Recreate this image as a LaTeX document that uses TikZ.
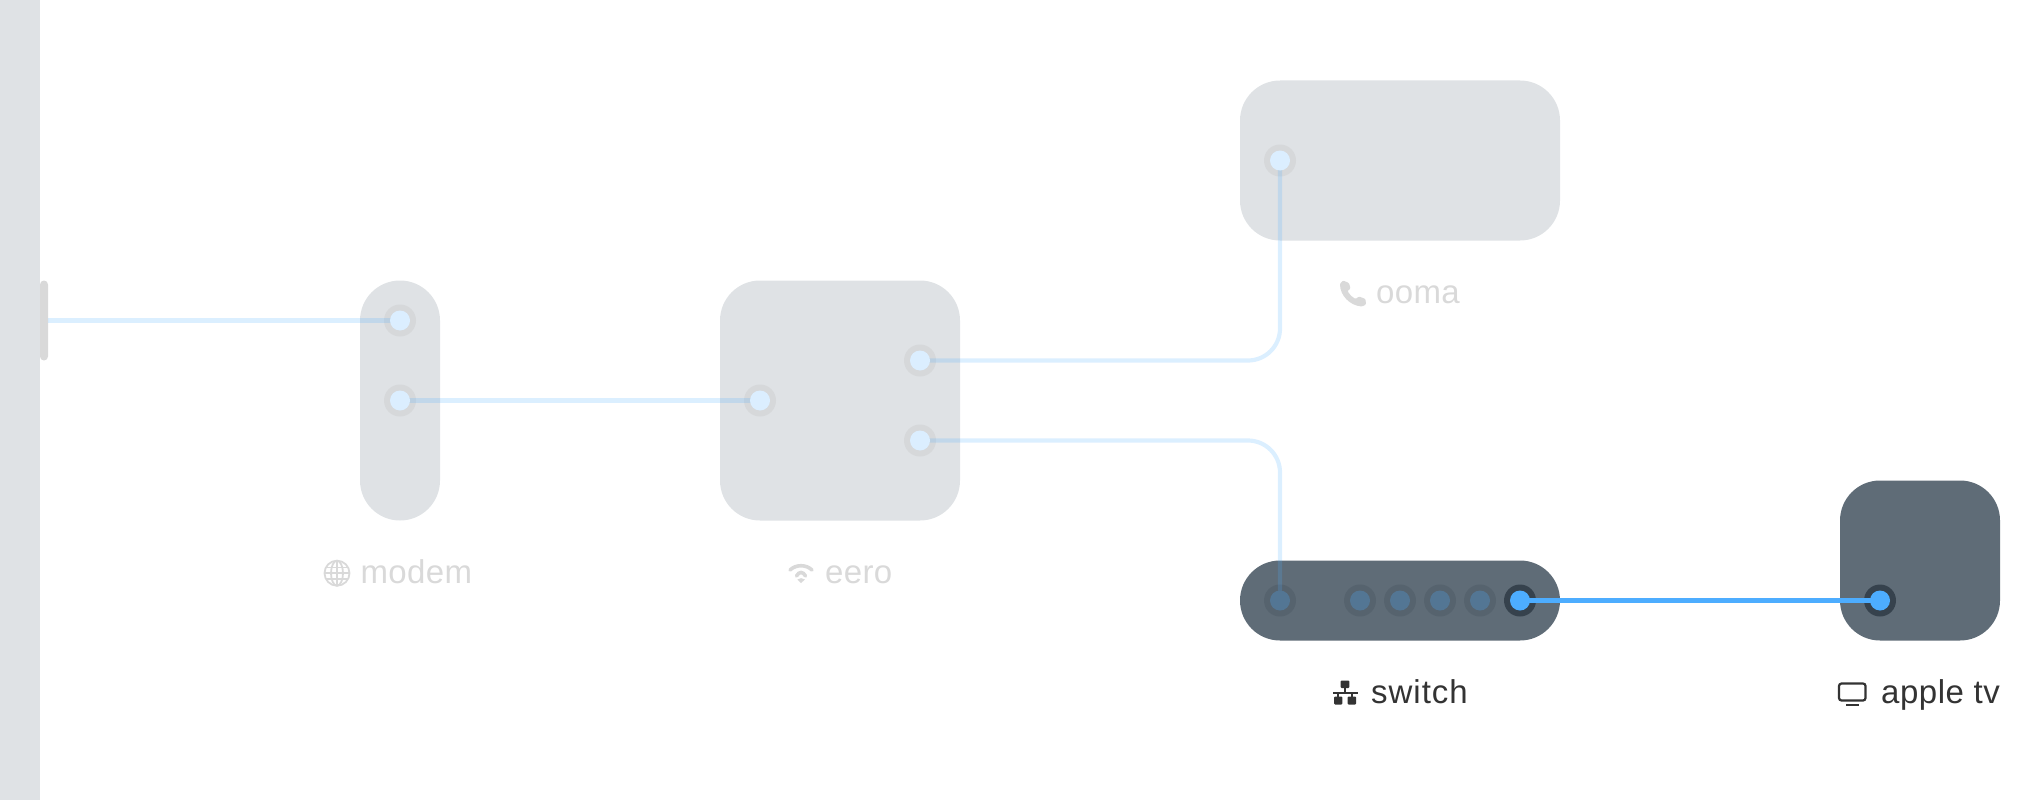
\documentclass[tikz,border=0pt]{standalone}
\usepackage{fontspec}
\setmainfont[LetterSpace=1]{Liberation Sans}
\definecolor{boxlight}{HTML}{DFE2E5}
\definecolor{boxdark}{HTML}{5F6C77}
\definecolor{tabgrey}{HTML}{D9D9D9}
\definecolor{ringlight}{HTML}{D6D8DA}
\definecolor{portlight}{HTML}{DBEEFF}
\definecolor{ringdim}{HTML}{56636E}
\definecolor{portdim}{HTML}{537694}
\definecolor{ringdark}{HTML}{36424D}
\definecolor{live}{HTML}{4DADFF}
\definecolor{fadetext}{HTML}{D9D9D9}
\definecolor{darktext}{HTML}{333333}
\tikzset{
  devbox/.style={rectangle,draw=none,inner sep=0pt,rounded corners=40pt},
  lightbox/.style={devbox,fill=boxlight},
  darkbox/.style={devbox,fill=boxdark},
  ring/.style={circle,draw=none,inner sep=0pt,minimum size=32pt},
  core/.style={circle,draw=none,inner sep=0pt,minimum size=20pt},
  wirefaint/.style={draw=live,opacity=.2,line width=4.2pt},
  wirelive/.style={draw=live,line width=4.2pt},
  lbl/.style={anchor=base west,inner sep=0pt,font=\fontsize{33}{39}\selectfont},
  lblfade/.style={lbl,text=fadetext},
  lbldark/.style={lbl,text=darktext}
}
\begin{document}
\begin{tikzpicture}[x=1pt,y=-1pt]
\useasboundingbox (0,-0.5) rectangle (2040,799.5);
% left bar and tab
\fill[boxlight] (0,-0.5) rectangle (40,799.5);
\node[rectangle,inner sep=0pt,minimum width=8pt,minimum height=80pt,rounded corners=4pt,fill=tabgrey] (tab) at (44,320) {};
% devices
\node[lightbox,minimum width=80pt,minimum height=240pt] (modem) at (400,400) {};
\node[lightbox,minimum width=240pt,minimum height=240pt] (eero) at (840,400) {};
\node[lightbox,minimum width=320pt,minimum height=160pt] (ooma) at (1400,160) {};
\node[darkbox,minimum width=320pt,minimum height=80pt] (switch) at (1400,600) {};
\node[darkbox,minimum width=160pt,minimum height=160pt] (atv) at (1920,560) {};
% rings
\foreach \n/\x/\y in {m1/400/320,m2/400/400,e1/760/400,e2/920/360,e3/920/440,o1/1280/160}
  \node[ring,fill=ringlight] (r\n) at (\x,\y) {};
\foreach \n/\x/\y in {s1/1280/600,s2/1360/600,s3/1400/600,s4/1440/600,s5/1480/600}
  \node[ring,fill=ringdim] (r\n) at (\x,\y) {};
\foreach \n/\x/\y in {s6/1520/600,a1/1880/600}
  \node[ring,fill=ringdark] (r\n) at (\x,\y) {};
% wires
\draw[wirefaint] (tab.east |- rm1) -- (rm1.center);
\draw[wirefaint] (rm2.center) -- (re1.center);
\draw[wirefaint,rounded corners=32pt] (re2.center) -| (ro1.center);
\draw[wirefaint,rounded corners=32pt] (re3.center) -| (rs1.center);
\draw[wirelive] (rs6.center) -- (ra1.center);
% port cores
\foreach \n in {m1,m2,e1,e2,e3,o1}
  \node[core,fill=portlight] at (r\n) {};
\foreach \n in {s1,s2,s3,s4,s5}
  \node[core,fill=portdim] at (r\n) {};
\foreach \n in {s6,a1}
  \node[core,fill=live] at (r\n) {};
% labels
\node[lblfade] (lmodem) at (360.5,583) {modem};
\node[lblfade] (leero) at (825,583) {eero};
\node[lblfade] (looma) at (1376,303) {ooma};
\node[lbldark] (lswitch) at (1371,703) {\addfontfeature{LetterSpace=3}switch};
\node[lbldark] (latv) at (1881,703) {\addfontfeature{LetterSpace=1.6}apple tv};
% globe icon
\begin{scope}[draw=fadetext,line width=1.8pt]
  \draw (337,572.7) circle[radius=12.5pt];
  \draw (337,572.7) ellipse[x radius=6pt,y radius=12.5pt];
  \draw (337,560.2) -- (337,585.2);
  \draw (324.5,572.7) -- (349.5,572.7);
  \draw (326.2,567) -- (347.8,567);
  \draw (326.2,578.4) -- (347.8,578.4);
\end{scope}
% wifi icon
\begin{scope}[draw=fadetext,line width=3.6pt,line cap=round]
  \draw (790,569.5) .. controls (796,563.8) and (806,563.8) .. (812,569.5);
  \draw (796.5,575.5) .. controls (799,570.8) and (803,570.8) .. (805.5,575.5);
\end{scope}
\fill[fadetext] (797.3,579) .. controls (799.5,577.2) and (802.8,577.2) .. (805,579) -- (801,582.5) -- cycle;
% phone icon
\fill[fadetext,rounded corners=1pt] (1343,280) -- (1349,282.5) -- (1350.5,288) -- (1347.5,290.5)
  .. controls (1349.5,294) and (1352,296.5) .. (1355.5,298.5) -- (1359,296) -- (1365.5,298.5) -- (1366,304)
  -- (1362,306) .. controls (1350,305) and (1340,295) .. (1340,283) -- cycle;
% switch icon
\begin{scope}[darktext]
  \fill[darktext,rounded corners=1pt] (1340.7,680) rectangle (1349.3,687.5);
  \fill[darktext,rounded corners=1pt] (1334.2,696) rectangle (1342.3,704);
  \fill[darktext,rounded corners=1pt] (1347.7,696) rectangle (1356,704);
  \fill[darktext] (1332.5,691) rectangle (1358,693);
  \fill[darktext] (1344,687) rectangle (1346,692);
  \fill[darktext] (1337.2,692) rectangle (1339.2,697);
  \fill[darktext] (1351,692) rectangle (1353,697);
\end{scope}
% tv icon
\draw[darktext,line width=2.2pt,rounded corners=2.5pt] (1839,683) rectangle (1865.5,700);
\draw[darktext,line width=2.2pt] (1846,704.5) -- (1858.5,704.5);
\end{tikzpicture}
\end{document}
